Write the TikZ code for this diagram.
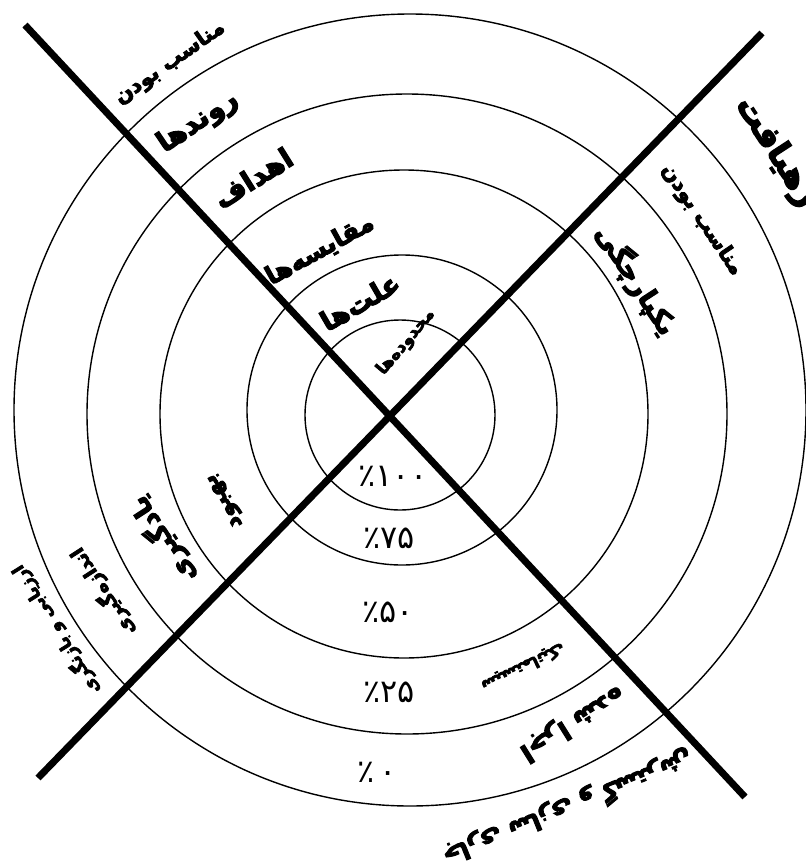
\documentclass[tikz,border=0pt]{standalone}
\usepackage{fontspec}
\TeXXeTstate=1
\newfontfamily\fa[Script=Arabic]{DejaVu Sans}
\newfontfamily\fab[Script=Arabic,FakeBold=4]{DejaVu Sans Bold}
\tikzset{
  ring/.style={draw=black, line width=1.4pt},
  bar/.style={draw=black, line width=7pt, line cap=butt},
  lbl/.style={font=\fab, inner sep=0pt, text=black},
  pct/.style={font=\fa\fontsize{32}{34}\selectfont, inner sep=0pt, text=black}
}
\newcommand{\fs}[1]{\fontsize{#1}{#1}\selectfont}
\begin{document}
\begin{tikzpicture}[x=1pt,y=-1pt]
\useasboundingbox (0,0) rectangle (806,865);
\fill[white] (0,0) rectangle (806,865);
% rings
\draw[ring] (400,415) circle[radius=95pt];
\draw[ring] (402,410) circle[radius=155pt];
\draw[ring] (404,414) circle[radius=244pt];
\draw[ring] (407,414) circle[radius=320pt];
\draw[ring] (410,410) circle[radius=396pt];
% crossing bars
\coordinate (a1) at (25,25);
\coordinate (a2) at (745,797);
\coordinate (b1) at (762,33);
\coordinate (b2) at (38,778);
\draw[bar] (a1) -- (a2);
\draw[bar] (b1) -- (b2);
% top-left quadrant
\node[lbl, rotate=35] (t1) at (170,63) {\fs{21}\beginR مناسب بودن\endR};
\node[lbl, rotate=34] (t2) at (198,122) {\fs{28}\beginR روندها\endR};
\node[lbl, rotate=32] (t3) at (253,178) {\fs{28}\beginR اهداف\endR};
\node[lbl, rotate=29] (t4) at (320,250) {\fs{25}\beginR مقایسه‌ها\endR};
\node[lbl, rotate=30] (t5) at (360,302) {\fs{27}\beginR علت‌ها\endR};
\node[lbl, rotate=50] (t6) at (406,342) {\fs{17}\beginR محدوده‌ها\endR};
% right quadrant
\node[lbl, rotate=-57] (r1) at (776,152) {\fs{33}\beginR رهیافت\endR};
\node[lbl, rotate=-56] (r2) at (702,220) {\fs{21}\beginR مناسب بودن\endR};
\node[lbl, rotate=-57] (r3) at (636,280) {\fs{27}\beginR یکپارچگی\endR};
% bottom-left quadrant
\node[lbl, rotate=120] (l1) at (226,500) {\fs{23}\beginR بهبود\endR};
\node[lbl, rotate=123] (l2) at (163,540) {\fs{26}\beginR یادگیری\endR};
\node[lbl, rotate=123] (l3) at (103,592) {\fs{19}\beginR اندازه‌گیری\endR};
\node[lbl, rotate=122] (l4) at (56,630) {\fs{17}\beginR ارزیابی و بازنگری\endR};
% bottom-right quadrant
\node[lbl, rotate=206] (q1) at (523,667) {\fs{16}\beginR سیستماتیک\endR};
\node[lbl, rotate=212] (q2) at (572,723) {\fs{26}\beginR اجرا شده\endR};
\node[lbl, rotate=202] (q3) at (568,808) {\fs{24}\beginR جاری سازی و گسترش\endR};
% percentages
\node[pct] (p100) at (393,476) {٪۱۰۰};
\node[pct] (p75) at (389,538) {٪۷۵};
\node[pct] (p50) at (388,612) {٪۵۰};
\node[pct] (p25) at (389,692) {٪۲۵};
\node[pct] (p0) at (377,772) {٪\,۰};
\end{tikzpicture}
\end{document}
